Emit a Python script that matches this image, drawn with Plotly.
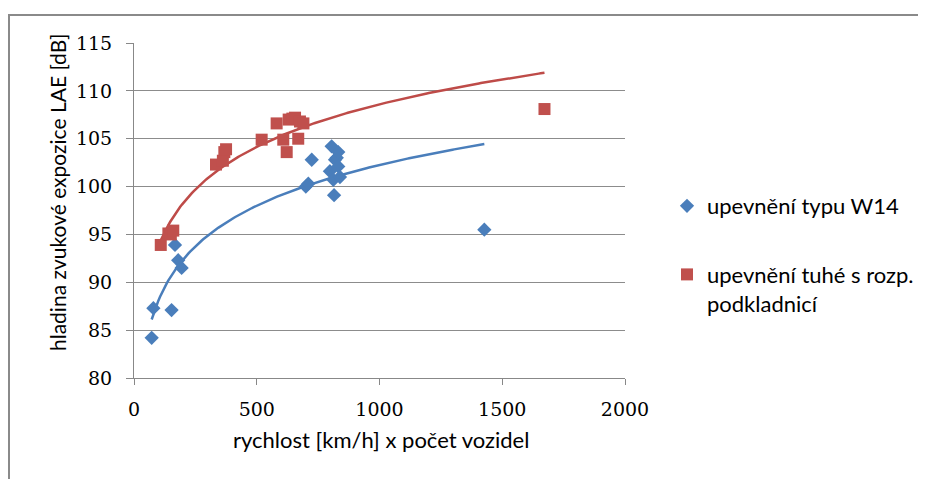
import numpy as np
import plotly.graph_objects as go

# --- data ---
w14_x = [72, 79, 153, 167, 180, 194, 700, 710, 724, 798, 805, 812, 815, 819, 826, 832, 832, 839, 1427]
w14_y = [84.2, 87.3, 87.1, 93.9, 92.3, 91.5, 100.0, 100.3, 102.8, 101.6, 104.2, 100.7, 99.1, 102.8, 103.0, 103.6, 102.1, 101.0, 95.5]

tuhe_x = [109, 140, 150, 160, 334, 362, 368, 375, 520, 581, 608, 622, 630, 645, 656, 669, 676, 690, 1672]
tuhe_y = [93.9, 95.1, 95.0, 95.4, 102.3, 102.7, 103.6, 103.9, 104.9, 106.6, 104.9, 103.6, 107.0, 107.1, 107.2, 105.0, 106.8, 106.6, 108.1]

name_w14 = "upevnění typu W14"
name_tuhe = "upevnění tuhé s rozp.<br>podkladnicí"

x_ticks = [0, 500, 1000, 1500, 2000]
y_ticks = [80, 85, 90, 95, 100, 105, 110, 115]

BLUE = "#4A7EBB"
RED = "#C0504D"


def log_trend(xs, ys):
    xs = np.asarray(xs, float)
    ys = np.asarray(ys, float)
    a, b = np.polyfit(np.log(xs), ys, 1)
    xt = np.linspace(xs.min(), xs.max(), 200)
    return xt, a * np.log(xt) + b


fig = go.Figure()

bx, by = log_trend(w14_x, w14_y)
rx, ry = log_trend(tuhe_x, tuhe_y)

fig.add_trace(go.Scatter(x=bx, y=by, mode="lines", line=dict(color=BLUE, width=2.5),
                         showlegend=False, hoverinfo="skip"))
fig.add_trace(go.Scatter(x=rx, y=ry, mode="lines", line=dict(color="#BE4B48", width=2.5),
                         showlegend=False, hoverinfo="skip"))
fig.add_trace(go.Scatter(x=w14_x, y=w14_y, mode="markers", name=name_w14, legendgroup="a",
                         marker=dict(symbol="diamond", size=11, color=BLUE)))
fig.add_trace(go.Scatter(x=tuhe_x, y=tuhe_y, mode="markers", name=name_tuhe, legendgroup="b",
                         marker=dict(symbol="square", size=12, color=RED)))

# the page body adds an 8px offset; margins are chosen so the plot area
# lands at screen x 134..625, y 43..378
W, H = 926, 471
L, T = 126, 35
pw, ph = 491, 335
R = W - L - pw
B = H - T - ph


def px_x(s):
    return (s - 134) / pw


def px_y(s):
    return (378 - s) / ph


tick_font = dict(family="DejaVu Serif", size=19, color="#000000")
fig.update_layout(
    width=W, height=H,
    margin=dict(l=L, r=R, t=T, b=B, pad=0),
    paper_bgcolor="white", plot_bgcolor="white",
    showlegend=True,
    legend=dict(x=px_x(667), y=px_y(185), xanchor="left", yanchor="top",
                font=dict(family="Lato", size=22, color="#000000"),
                traceorder="grouped", tracegroupgap=37, valign="top",
                bgcolor="rgba(0,0,0,0)"),
    xaxis=dict(range=[0, 2000], tickvals=x_ticks, ticks="outside", ticklen=6,
               tickcolor="#888888", showgrid=False, zeroline=False,
               showline=True, linecolor="#888888", linewidth=1,
               tickfont=tick_font, ticklabelstandoff=8),
    yaxis=dict(range=[80, 115], tickvals=y_ticks, ticks="outside", ticklen=7,
               tickcolor="#888888", showgrid=True, gridcolor="#8C8C8C", gridwidth=1,
               zeroline=False, showline=True, linecolor="#888888", linewidth=1,
               tickfont=tick_font, ticklabelstandoff=10),
    annotations=[
        dict(text="rychlost [km/h] x počet vozidel", xref="paper", yref="paper",
             x=px_x(381), y=px_y(440), showarrow=False,
             xanchor="center", yanchor="middle",
             font=dict(family="Lato", size=22, color="#000000")),
        dict(text="hladina zvukové expozice LAE [dB]", xref="paper", yref="paper",
             x=px_x(57), y=px_y(193), showarrow=False, textangle=-90,
             xanchor="center", yanchor="middle",
             font=dict(family="Lato", size=21, color="#000000")),
    ],
    shapes=[
        dict(type="rect", xref="paper", yref="paper",
             x0=px_x(9), x1=px_x(960), y0=px_y(15), y1=px_y(520),
             line=dict(color="#8A8A8A", width=2), fillcolor="rgba(0,0,0,0)", layer="below"),
    ],
)

fig.write_html("out.html")
